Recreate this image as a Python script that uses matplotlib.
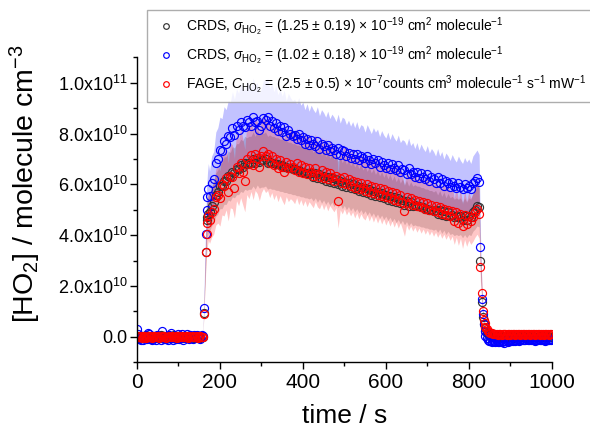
import numpy as np
import matplotlib
matplotlib.use('Agg')
from matplotlib import pyplot as plt
from matplotlib.ticker import MultipleLocator, FuncFormatter

plt.rcParams['font.family'] = ['Liberation Sans', 'DejaVu Sans']
plt.rcParams['mathtext.fontset'] = 'custom'
plt.rcParams['mathtext.rm'] = 'Liberation Sans'
plt.rcParams['mathtext.it'] = 'Liberation Sans:italic'
plt.rcParams['mathtext.bf'] = 'Liberation Sans:bold'

UNIT = 1e10  # values below are in units of 1e10 molecule cm-3

# time grid (s)
t_base = np.arange(0, 160, 3)
t_rise = [161, 166, 168, 170, 172]
t_plat = np.arange(175, 826, 5)
t_fall = [828, 832, 834, 836, 838, 840, 843, 846, 849, 852, 855, 858]
t_tail = np.arange(861, 1000, 3)

# relative uncertainties from the legend
rel_black = 0.19 / 1.25
rel_blue = 0.18 / 1.02
rel_fage = 0.5 / 2.5

# ---- CRDS (black) ----
black_base = [0.05, -0.03, 0.02, -0.05, 0.04, 0.00, -0.02, 0.06, -0.04, 0.01,
              0.03, -0.06, 0.02, 0.05, -0.01, -0.04, 0.03, 0.00, -0.03, 0.06,
              0.01, -0.05, 0.04, -0.02, 0.02, 0.05, -0.04, 0.00, 0.03, -0.03,
              0.06, -0.01, -0.05, 0.02, 0.04, -0.02, 0.01, -0.06, 0.03, 0.00,
              -0.04, 0.05, 0.02, -0.03, 0.01, 0.04, -0.05, 0.02, 0.00, -0.02,
              0.03, -0.04, 0.05, 0.01]
black_rise = [0.95, 3.36, 4.6, 4.7, 4.85]
black_plat = [4.9, 5.15, 5.3, 5.6, 5.7, 5.95, 5.95, 6.15, 6.15, 6.35,
              6.3, 6.5, 6.45, 6.6, 6.6, 6.75, 6.7, 6.85, 6.8, 6.85,
              6.85, 7.0, 6.85, 7.05, 6.9, 6.95, 6.95, 7.0, 6.85, 6.9,
              6.85, 6.85, 6.8, 6.8, 6.75, 6.75, 6.7, 6.7, 6.65, 6.65,
              6.6, 6.6, 6.55, 6.55, 6.5, 6.5, 6.45, 6.45, 6.4, 6.45,
              6.3, 6.45, 6.25, 6.4, 6.2, 6.35, 6.15, 6.3, 6.1, 6.25,
              6.05, 6.2, 6.0, 6.15, 5.95, 6.1, 5.9, 6.05, 5.85, 6.0,
              5.8, 5.95, 5.75, 5.9, 5.7, 5.85, 5.65, 5.8, 5.6, 5.75,
              5.55, 5.7, 5.5, 5.65, 5.45, 5.6, 5.4, 5.55, 5.35, 5.5,
              5.3, 5.45, 5.25, 5.4, 5.2, 5.35, 5.15, 5.3, 5.15, 5.2,
              5.15, 5.15, 5.1, 5.1, 5.05, 5.05, 5.0, 5.0, 4.95, 5.0,
              4.85, 5.0, 4.8, 4.95, 4.75, 4.9, 4.75, 4.8, 4.7, 4.75,
              4.7, 4.75, 4.6, 4.75, 4.6, 4.75, 4.7, 4.9, 5.0, 5.15,
              5.1]
black_fall = [2.97, 1.39, 0.8, 0.5, 0.35, 0.25, 0.16, 0.1, 0.06, 0.04, 0.02, 0.01]
black_tail = [0.02, -0.01, 0.03, 0.00, -0.02, 0.01, 0.03, -0.03, 0.00, 0.02,
              -0.01, 0.01, 0.03, -0.02, 0.00, 0.02, -0.03, 0.01, 0.00, 0.02,
              -0.02, 0.03, 0.00, -0.01, 0.02, 0.01, -0.03, 0.00, 0.02, -0.01,
              0.01, 0.03, -0.02, 0.00, 0.01, -0.01, 0.02, 0.00, -0.02, 0.03,
              0.01, -0.01, 0.00, 0.02, -0.02, 0.01, 0.00]

# ---- CRDS (blue) ----
blue_base = [0.30, 0.10, -0.08, -0.14, 0.04, -0.12, -0.06, 0.02, -0.10, 0.16,
             0.12, -0.09, -0.13, 0.03, -0.06, -0.11, 0.07, -0.04, 0.02, -0.12,
             0.22, 0.05, -0.10, -0.07, 0.03, -0.13, 0.06, 0.14, -0.05, -0.11,
             0.02, -0.08, 0.04, 0.13, -0.09, -0.03, 0.10, -0.12, 0.05, -0.06,
             0.12, -0.04, -0.10, 0.08, 0.03, -0.07, 0.06, -0.02, 0.09, -0.05,
             0.04, -0.08, 0.07, 0.02]
blue_rise = [1.15, 4.05, 5.0, 5.5, 5.8]
blue_plat = [5.55, 6.05, 6.2, 6.85, 7.0, 7.35, 7.3, 7.7, 7.6, 7.9,
             7.85, 8.2, 7.95, 8.3, 8.15, 8.45, 8.3, 8.25, 8.55, 8.45,
             8.3, 8.65, 8.45, 8.5, 8.15, 8.3, 8.6, 8.55, 8.65, 8.3,
             8.5, 8.2, 8.4, 8.1, 8.3, 8.05, 8.25, 7.9, 8.15, 8.0,
             7.9, 7.95, 7.8, 8.0, 7.75, 7.85, 7.6, 7.8, 7.55, 7.75,
             7.6, 7.5, 7.7, 7.4, 7.6, 7.5, 7.35, 7.55, 7.3, 7.45,
             7.35, 7.2, 7.45, 7.15, 7.35, 7.3, 7.1, 7.25, 7.05, 7.2,
             7.0, 7.2, 6.95, 7.1, 7.05, 6.85, 7.1, 6.95, 6.8, 7.0,
             6.85, 6.95, 6.7, 6.9, 6.75, 6.65, 6.85, 6.6, 6.8, 6.65,
             6.55, 6.75, 6.5, 6.6, 6.55, 6.4, 6.65, 6.4, 6.5, 6.3,
             6.5, 6.25, 6.45, 6.3, 6.2, 6.4, 6.15, 6.3, 6.2, 6.05,
             6.3, 6.05, 6.2, 5.95, 6.15, 6.05, 5.9, 6.1, 5.95, 5.85,
             6.05, 5.9, 5.8, 6.0, 5.85, 5.95, 5.8, 6.05, 6.15, 6.25,
             6.1]
blue_fall = [3.55, 1.5, 0.9, 0.5, 0.25, 0.05, -0.05, -0.12, -0.15, -0.18, -0.2, -0.17]
blue_tail = [-0.18, -0.20, -0.16, -0.22, -0.19, -0.15, -0.21, -0.18, -0.23, -0.17,
             -0.14, -0.19, -0.16, -0.12, -0.18, -0.15, -0.11, -0.16, -0.13, -0.10,
             -0.15, -0.12, -0.09, -0.14, -0.11, -0.13, -0.08, -0.12, -0.14, -0.10,
             -0.13, -0.09, -0.12, -0.15, -0.11, -0.13, -0.10, -0.14, -0.12, -0.09,
             -0.13, -0.15, -0.11, -0.12, -0.14, -0.10, -0.13]

# ---- FAGE (red) ----
red_base = [0.03, -0.02, 0.01, 0.04, -0.03, 0.00, 0.02, -0.04, 0.01, 0.03,
            -0.01, 0.02, -0.03, 0.00, 0.04, -0.02, 0.01, 0.03, -0.04, 0.00,
            0.02, -0.01, 0.03, -0.03, 0.01, 0.00, 0.04, -0.02, 0.02, -0.01,
            0.01, 0.03, -0.03, 0.00, 0.02, -0.02, 0.04, 0.01, -0.01, 0.03,
            0.00, -0.03, 0.02, 0.01, -0.02, 0.03, 0.00, -0.01, 0.02, -0.03,
            0.01, 0.03, -0.02, 0.00]
red_rise = [0.92, 3.36, 4.05, 4.5, 4.75]
red_plat = [4.6, 4.9, 5.05, 5.5, 5.6, 5.45, 6.0, 5.95, 6.25, 5.7,
            6.35, 6.3, 5.85, 6.7, 6.45, 6.85, 6.5, 6.15, 7.0, 6.8,
            7.15, 6.75, 7.2, 7.05, 6.7, 7.1, 7.3, 7.1, 7.2, 6.85,
            7.1, 6.75, 7.0, 6.65, 6.95, 6.7, 6.5, 6.9, 6.65, 6.8,
            6.7, 6.55, 6.85, 6.5, 6.75, 6.45, 6.7, 6.4, 6.65, 6.5,
            6.35, 6.65, 6.4, 6.3, 6.55, 6.25, 6.5, 6.2, 6.45, 6.3,
            6.15, 6.35, 5.35, 6.25, 6.05, 6.3, 6.0, 6.2, 5.95, 6.15,
            5.85, 6.1, 5.8, 6.05, 5.85, 5.75, 6.0, 5.7, 5.95, 5.65,
            5.9, 5.6, 5.85, 5.55, 5.8, 5.5, 5.75, 5.45, 5.7, 5.4,
            5.65, 5.35, 5.6, 5.3, 4.95, 5.5, 5.25, 5.45, 5.2, 5.4,
            5.15, 5.35, 5.1, 5.3, 5.05, 5.25, 5.0, 5.2, 4.95, 5.15,
            4.9, 5.1, 4.85, 5.05, 4.8, 5.0, 4.75, 4.95, 4.55, 4.9,
            4.5, 4.85, 4.35, 4.8, 4.45, 4.75, 4.55, 4.7, 4.9, 5.05,
            4.85]
red_fall = [2.76, 1.72, 1.0, 0.66, 0.53, 0.4, 0.3, 0.24, 0.2, 0.17, 0.15, 0.13]
red_tail = [0.12, 0.10, 0.13, 0.09, 0.11, 0.12, 0.08, 0.10, 0.13, 0.11,
            0.09, 0.12, 0.10, 0.08, 0.11, 0.13, 0.10, 0.09, 0.12, 0.10,
            0.11, 0.08, 0.12, 0.10, 0.13, 0.09, 0.11, 0.10, 0.12, 0.08,
            0.10, 0.11, 0.13, 0.09, 0.10, 0.12, 0.11, 0.08, 0.10, 0.12,
            0.09, 0.11, 0.10, 0.13, 0.09, 0.11, 0.10]

labels = [r'CRDS, $\sigma_{\mathrm{HO_2}}$ = (1.25 ± 0.19) × 10$^{-19}$ cm$^{2}$ molecule$^{-1}$',
          r'CRDS, $\sigma_{\mathrm{HO_2}}$ = (1.02 ± 0.18) × 10$^{-19}$ cm$^{2}$ molecule$^{-1}$',
          r'FAGE, $C_{\mathrm{HO_2}}$ = (2.5 ± 0.5) × 10$^{-7}$counts cm$^{3}$ molecule$^{-1}$ s$^{-1}$ mW$^{-1}$']

t = np.concatenate([t_base, t_rise, t_plat, t_fall, t_tail])
black = np.concatenate([black_base, black_rise, black_plat, black_fall, black_tail]) * UNIT
blue = np.concatenate([blue_base, blue_rise, blue_plat, blue_fall, blue_tail]) * UNIT
red = np.concatenate([red_base, red_rise, red_plat, red_fall, red_tail]) * UNIT

fig = plt.figure(figsize=(5.9, 4.3), dpi=100)
ax = fig.add_axes([0.2322, 0.1574, 0.7029, 0.7093])

# uncertainty bands
ax.fill_between(t, blue * (1 - rel_blue), blue * (1 + rel_blue), color='#0000ff', alpha=0.24, lw=0)
ax.fill_between(t, black * (1 - rel_black), black * (1 + rel_black), color='#000000', alpha=0.16, lw=0)
ax.fill_between(t, red * (1 - rel_fage), red * (1 + rel_fage), color='#ff0000', alpha=0.22, lw=0)

ms = 5.8
h1, = ax.plot(t, black, 'o', mfc='none', mec='#333333', ms=ms, mew=0.85, label=labels[0])
h2, = ax.plot(t, blue, 'o', mfc='none', mec='#0000ff', ms=ms, mew=0.85, label=labels[1])
h3, = ax.plot(t, red, 'o', mfc='none', mec='#ff0000', ms=ms, mew=0.85, label=labels[2])

ax.set_xlim(0, 1000)
ax.set_ylim(-1e10, 1.1e11)
ax.xaxis.set_major_locator(MultipleLocator(200))
ax.xaxis.set_minor_locator(MultipleLocator(100))
ax.yaxis.set_major_locator(MultipleLocator(2e10))
ax.yaxis.set_minor_locator(MultipleLocator(1e10))


def sci(v, pos):
    if abs(v) < 1:
        return '0.0'
    e = int(np.floor(np.log10(abs(v))))
    return f'{v / 10**e:.1f}x10$^{{{e}}}$'


ax.yaxis.set_major_formatter(FuncFormatter(sci))
for s in ['top', 'right']:
    ax.spines[s].set_visible(False)
for s in ['left', 'bottom']:
    ax.spines[s].set_linewidth(1.0)
ax.tick_params(which='major', direction='out', length=5, width=1)
ax.tick_params(which='minor', direction='out', length=3, width=1)
ax.tick_params(axis='y', labelsize=13, pad=2)
ax.tick_params(axis='x', labelsize=15, pad=3)

ax.set_xlabel('time / s', fontsize=19, labelpad=8)
ax.set_ylabel(r'[HO$_2$] / molecule cm$^{-3}$', fontsize=20.5)
ax.yaxis.set_label_coords(-0.226, 0.587)

leg = ax.legend(handles=[h1, h2, h3], loc='upper left', bbox_to_anchor=(147 / 590, 1 - 10 / 430),
                bbox_transform=fig.transFigure, borderaxespad=0, fontsize=10, frameon=True,
                fancybox=False, edgecolor='#999999', handlelength=2.0, handletextpad=0.4,
                borderpad=0.4, labelspacing=0.45, markerscale=0.7)
leg.get_frame().set_linewidth(1.0)

fig.savefig('out.png', dpi=100)
